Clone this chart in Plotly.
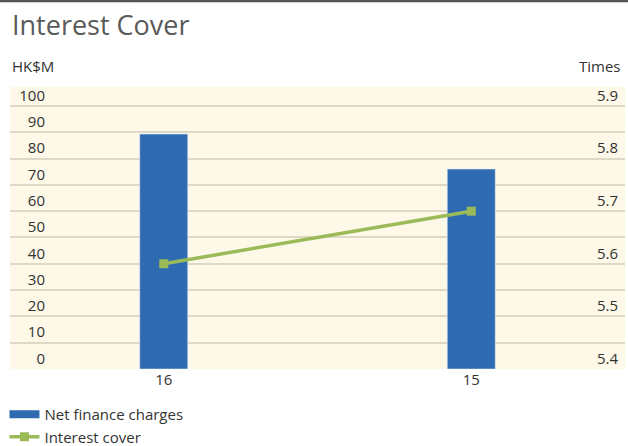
import plotly.graph_objects as go

categories = ["16", "15"]
net_finance_charges = [89.3, 76.0]
interest_cover = [5.6, 5.7]
left_ticks = [0, 10, 20, 30, 40, 50, 60, 70, 80, 90, 100]
right_ticks = [5.4, 5.5, 5.6, 5.7, 5.8, 5.9]

FONT = "Open Sans"
BAR_COLOR = "#2F6BB1"
LINE_COLOR = "#9BBB59"

fig = go.Figure()
fig.add_trace(go.Bar(
    x=categories, y=net_finance_charges, marker_color=BAR_COLOR,
    name="Net finance charges", showlegend=False, yaxis="y",
))
# legend entry for bars (wide rectangle swatch)
fig.add_trace(go.Scatter(
    x=[None], y=[None], mode="lines", line=dict(color=BAR_COLOR, width=8),
    name="Net finance charges", showlegend=True,
))
fig.add_trace(go.Scatter(
    x=categories, y=interest_cover, mode="lines+markers",
    line=dict(color=LINE_COLOR, width=3.5),
    marker=dict(symbol="square", size=9, color=LINE_COLOR),
    name="Interest cover", yaxis="y2",
))

fig.update_layout(
    width=628, height=446,
    margin=dict(l=10, r=3, t=87, b=77, autoexpand=False),
    paper_bgcolor="white",
    plot_bgcolor="#FDF8E7",
    font=dict(family=FONT, size=15, color="#333333"),
    bargap=0.844,
    xaxis=dict(
        type="category", showgrid=False, zeroline=False, showline=False,
        ticks="", tickfont=dict(size=15, color="#333333"),
    ),
    yaxis=dict(
        range=[0, 107.2], tickvals=left_ticks, showgrid=True,
        gridcolor="#DDD9C6", gridwidth=1.5, zeroline=False, showline=False,
        ticks="", ticklabelposition="outside top", ticklabelstandoff=-36,
        tickfont=dict(size=15, color="#333333"),
    ),
    yaxis2=dict(
        range=[5.4, 5.4 + 0.5 * 107.2 / 100], tickvals=right_ticks,
        tickformat=".1f", overlaying="y", side="right", showgrid=False,
        zeroline=False, showline=False, ticks="",
        ticklabelposition="outside top", ticklabelstandoff=-29,
        tickfont=dict(size=15, color="#333333"),
    ),
    legend=dict(
        orientation="v", x=-0.009, xanchor="left", y=-0.103, yanchor="top",
        font=dict(size=15, color="#333333"), bgcolor="rgba(0,0,0,0)",
        itemwidth=30, tracegroupgap=0,
    ),
    shapes=[dict(type="line", xref="paper", yref="paper", x0=-0.02, x1=1.01,
                 y0=1.306, y1=1.306, line=dict(color="#555555", width=3))],
    annotations=[
        dict(text="Interest Cover", xref="paper", yref="paper", x=0, y=1.22,
             xanchor="left", yanchor="middle", showarrow=False,
             font=dict(size=27, color="#5A5A5A", family=FONT)),
        dict(text="HK$M", xref="paper", yref="paper", x=0, y=1.075,
             xanchor="left", yanchor="middle", showarrow=False,
             font=dict(size=15, color="#333333", family=FONT)),
        dict(text="Times", xref="paper", yref="paper", x=0.997, y=1.075,
             xanchor="right", yanchor="middle", showarrow=False,
             font=dict(size=15, color="#333333", family=FONT)),
    ],
)

fig.write_html("out.html")
